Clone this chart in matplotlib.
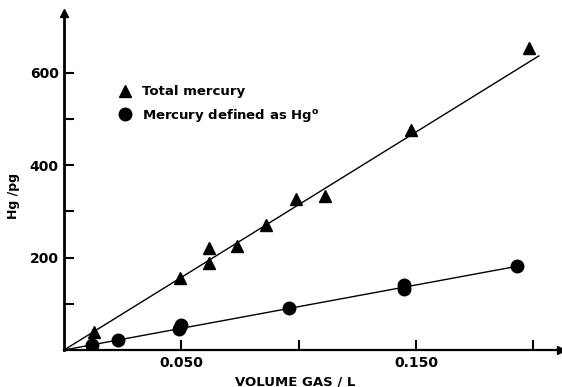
import matplotlib.pyplot as plt
import numpy as np

plt.rcParams['font.family'] = ['DejaVu Sans']
plt.rcParams['font.weight'] = 'bold'

# total mercury (triangles)
vol_total = [0.0126, 0.0496, 0.0616, 0.0616, 0.0737, 0.086, 0.099, 0.111, 0.148, 0.198]
hg_total = [38, 156, 220, 188, 225, 270, 326, 333, 476, 653]

# mercury defined as Hg0 (circles)
vol_hg0 = [0.012, 0.023, 0.049, 0.050, 0.096, 0.145, 0.145, 0.193]
hg_hg0 = [10, 22, 46, 53, 90, 132, 141, 181]

# fitted lines
fit_total_x = [0.0, 0.2023]
fit_total_y = [0.0, 636]
fit_hg0_x = [0.0, 0.193]
fit_hg0_y = [0.0, 181]

fig = plt.figure(figsize=(5.62, 3.87), dpi=100)
ax = fig.add_axes([0.114, 0.0956, 0.884, 0.871])

ax.plot(fit_total_x, fit_total_y, color='black', lw=1.0)
ax.plot(fit_hg0_x, fit_hg0_y, color='black', lw=1.0)
ax.plot(vol_total, hg_total, '^', color='black', ms=9, label='Total mercury')
ax.plot(vol_hg0, hg_hg0, 'o', color='black', ms=9, label=r'Mercury defined as Hg$^\mathbf{o}$')

ax.set_xlim(0, 0.2117)
ax.set_ylim(0, 729)

ax.spines['right'].set_color('none')
ax.spines['top'].set_color('none')
ax.spines['left'].set_linewidth(2)
ax.spines['bottom'].set_linewidth(1.6)

# arrow heads
ax.plot(1, 0, '>k', ms=6, transform=ax.get_yaxis_transform(), clip_on=False)
ax.plot(0, 1, '^k', ms=6, transform=ax.get_xaxis_transform(), clip_on=False)

ax.set_xticks([0.05, 0.1, 0.15, 0.2])
ax.set_xticklabels(['0.050', '', '0.150', ''])
ax.set_yticks([100, 200, 300, 400, 500, 600])
ax.set_yticklabels(['', '200', '', '400', '', '600'])
ax.tick_params(direction='in', length=7, width=1.5, labelsize=10, pad=4)
for lab in ax.get_xticklabels() + ax.get_yticklabels():
    lab.set_fontweight('bold')

ax.set_xlabel('VOLUME GAS / L', fontsize=9.5, fontweight='bold')
ax.xaxis.set_label_coords(0.466, -0.075)
ax.set_ylabel('Hg /pg', fontsize=9, fontweight='bold')
ax.yaxis.set_label_coords(-0.088, 0.457)

leg = ax.legend(loc='upper left', bbox_to_anchor=(0.11, 0.785), frameon=False,
                borderaxespad=0, borderpad=0, handletextpad=0.8,
                labelspacing=0.65, handlelength=1.0,
                prop={'weight': 'bold', 'size': 9.5})

fig.savefig('out.png', dpi=100)
